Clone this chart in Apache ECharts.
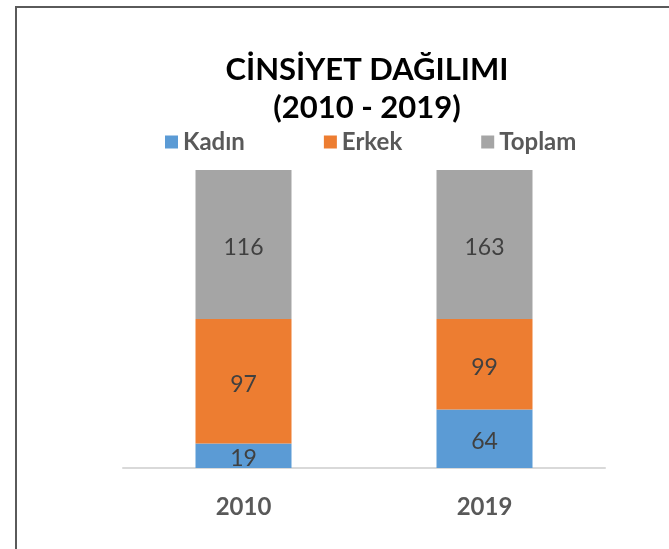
<!DOCTYPE html>
<html lang="tr">
<head>
    <meta charset="UTF-8">
    <script src="https://cdn.jsdelivr.net/npm/echarts@6/dist/echarts.min.js"></script>
    <title>Cinsiyet Dağılımı</title>
    <style>
        html, body { margin: 0; padding: 0; background: #fff; }
        #frame {
            position: absolute; left: 15px; top: 6px; right: 0; bottom: 0;
            border-left: 2px solid #5a5a5a; border-top: 2px solid #5a5a5a;
        }
        #chart { position: absolute; left: 0; top: 0; width: 669px; height: 549px; }
    </style>
</head>
<body>
<div id="frame"></div>
<div id="chart"></div>

<script type="text/javascript">
    var years = ['2010', '2019']
    var kadin = [19, 64]
    var erkek = [97, 99]
    var toplam = [116, 163]

    var names = ['Kadın', 'Erkek', 'Toplam']
    var colors = ['#5B9BD5', '#ED7D31', '#A5A5A5']
    var raw = [kadin, erkek, toplam]

    // 100% yığılmış sütun: her yıl için payları hesapla
    function share(arr, i) {
        var sum = kadin[i] + erkek[i] + toplam[i]
        return arr[i] / sum * 100
    }

    var series = raw.map(function (arr, s) {
        return {
            name: names[s],
            type: 'bar',
            stack: 'all',
            barWidth: 96,
            itemStyle: { color: colors[s] },
            label: {
                show: true,
                position: 'inside',
                offset: [0, 3],
                color: '#404040',
                fontFamily: 'Lato',
                fontSize: 23,
                formatter: function (p) { return raw[s][p.dataIndex] }
            },
            data: years.map(function (y, i) { return share(arr, i) })
        }
    })

    var myChart = echarts.init(document.getElementById('chart'))
    var option = {
        animation: false,
        title: {
            text: 'CİNSİYET DAĞILIMI\n(2010 - 2019)',
            left: 362,
            top: 46,
            textAlign: 'center',
            textStyle: {
                fontFamily: 'Lato',
                fontWeight: 'bold',
                fontSize: 31,
                color: '#000',
                lineHeight: 38
            }
        },
        legend: {
            data: names,
            top: 125,
            left: 160,
            itemWidth: 13,
            itemHeight: 13,
            itemGap: 79,
            icon: 'rect',
            textStyle: {
                fontFamily: 'Lato',
                fontWeight: 'bold',
                fontSize: 24,
                color: '#595959'
            }
        },
        grid: { left: 123, right: 64, top: 170, bottom: 81 },
        xAxis: {
            type: 'category',
            data: years,
            axisLine: { lineStyle: { color: '#d9d9d9', width: 2 } },
            axisTick: { show: false },
            axisLabel: {
                margin: 27,
                fontFamily: 'Lato',
                fontWeight: 'bold',
                fontSize: 24,
                color: '#595959'
            }
        },
        yAxis: {
            type: 'value',
            min: 0,
            max: 100,
            show: false,
            splitLine: { show: false }
        },
        series: series
    }
    myChart.setOption(option)
</script>
</body>
</html>
